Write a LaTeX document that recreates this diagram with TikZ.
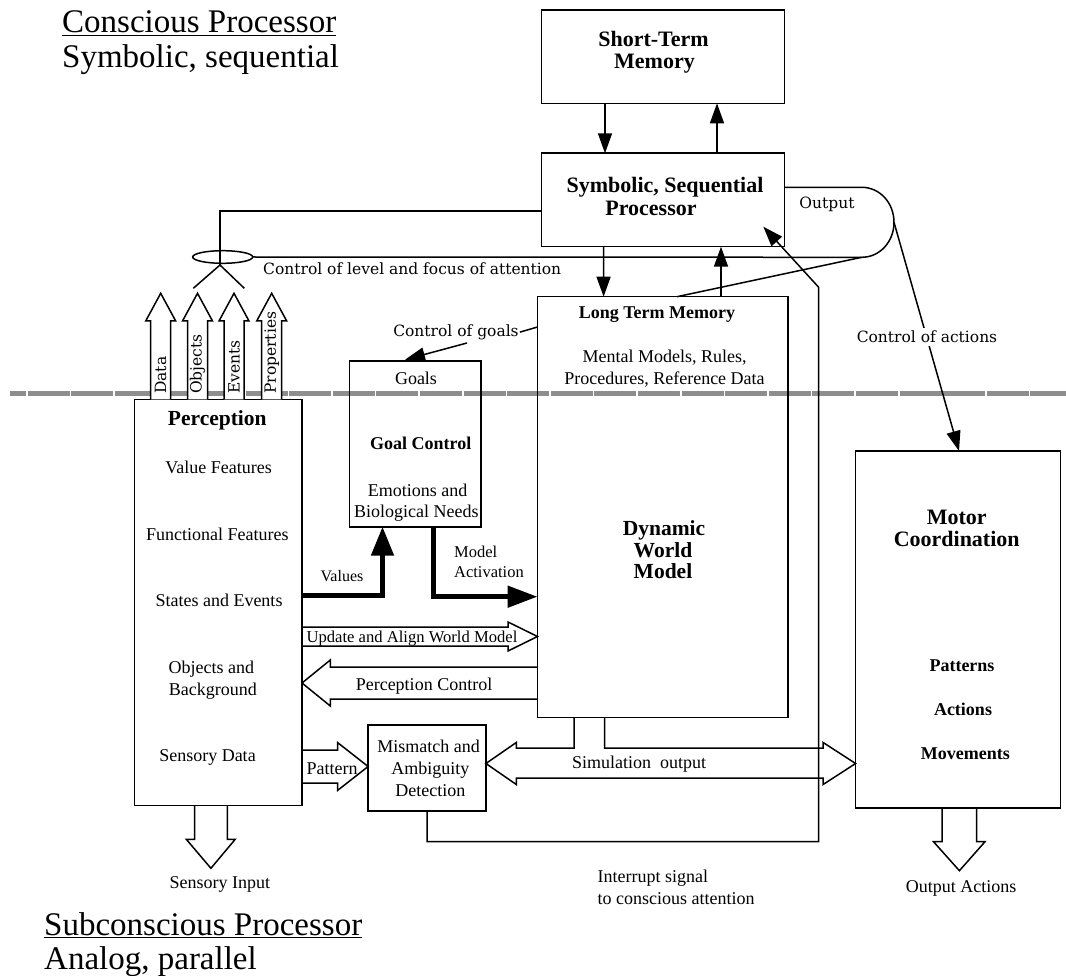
\documentclass[tikz,border=0pt]{standalone}
\usepackage{fontspec}
\setmainfont{Liberation Serif}
\newfontfamily\bkfont{DejaVu Serif}
\usetikzlibrary{arrows.meta,calc,shapes.geometric}
\definecolor{sepgray}{HTML}{8E8E8E}
\begin{document}
\begin{tikzpicture}[x=1pt,y=-1pt,
  box/.style={draw,line width=1.6pt,inner sep=0,outer sep=0},
  ln/.style={line width=1.5pt,line join=miter},
  arr/.style={ln,-{Triangle[length=20pt,width=14pt]}},
  fat/.style={line width=5pt,line join=miter,-{Triangle[length=29pt,width=22pt]}},
  blk/.style={line width=1.5pt,line join=miter},
  txt/.style={inner sep=0,anchor=base,font=\fontsize{18}{21.7}\selectfont},
  txtb/.style={inner sep=0,anchor=base,font=\fontsize{18}{21.7}\selectfont\bfseries},
  txtB/.style={inner sep=0,anchor=base,font=\fontsize{22}{21.7}\selectfont\bfseries},
  bkt/.style={inner sep=0,anchor=base,font=\bkfont\fontsize{15.5}{18}\selectfont},
  headt/.style={inner sep=0,anchor=base west,font=\fontsize{33}{38}\selectfont},
]
\useasboundingbox (0,0) rectangle (1066,976);

% separator between conscious and subconscious
\draw[draw=sepgray,line width=4.5pt,dash pattern=on 42pt off 1.6pt,dash phase=26pt] (10,393.7) -- (1066,393.7);

% headings
\node[headt] (hc) at (62,33) {\underline{Conscious Processor}};
\node[headt] (hc2) at (62,68) {Symbolic, sequential};
\node[headt] (hs) at (44,935) {\underline{Subconscious Processor}};
\node[headt] (hs2) at (44,969) {Analog, parallel};

% boxes
\node[box,minimum width=243,minimum height=93.3] (stm) at (663,56.7) {};
\node[box,minimum width=243,minimum height=93.4] (ssp) at (663,200) {};
\node[box,minimum width=250.5,minimum height=420.6] (dwm) at (662.75,507) {};
\node[box,minimum width=167.7,minimum height=406] (perc) at (218.15,602.3) {};
\node[box,minimum width=131.2,minimum height=165.7] (goal) at (415.1,443.85) {};
\node[box,minimum width=117.8,minimum height=86] (mm) at (427,768) {};
\node[box,minimum width=205,minimum height=356.7] (motor) at (958.1,629.35) {};

% box texts
\node[txtB] at (653.5,46.6) {Short-Term};
\node[txtB] at (654.5,68.3) {Memory};
\node[txtB] at (665,193) {Symbolic, Sequential};
\node[txtB] at (651,215.6) {Processor};

\node[txtb] at (657,318.7) {Long Term Memory};
\node[txt] at (664.5,362.7) {Mental Models, Rules,};
\node[txt] at (664.5,384.3) {Procedures, Reference Data};
\node[txt,font=\fontsize{21.5}{24}\selectfont\bfseries] at (664,535.3) {Dynamic};
\node[txt,font=\fontsize{21.5}{24}\selectfont\bfseries] at (663,557) {World};
\node[txt,font=\fontsize{21.5}{24}\selectfont\bfseries] at (663,578.7) {Model};

\node[txt] at (416,384.3) {Goals};
\node[txtb] at (420.7,449.3) {Goal Control};
\node[txt] at (417.5,496) {Emotions and};
\node[txt] at (416.3,517.7) {Biological Needs};

\node[txt,font=\fontsize{21.5}{24}\selectfont\bfseries] at (217.3,425.3) {Perception};
\node[txt] at (218.7,473.7) {Value Features};
\node[txt] at (217.3,540.3) {Functional Features};
\node[txt] at (219,606) {States and Events};
\node[txt] at (211.4,673.3) {Objects and};
\node[txt] at (212.8,695) {Background};
\node[txt] at (207.5,761) {Sensory Data};

\node[txt] at (428.7,752) {Mismatch and};
\node[txt] at (430.4,774.3) {Ambiguity};
\node[txt] at (430.4,796) {Detection};

\node[txtB] at (956.7,524.6) {Motor};
\node[txtB] at (956.7,546.3) {Coordination};
\node[txtb] at (962,671) {Patterns};
\node[txtb] at (963,715.3) {Actions};
\node[txtb] at (965.4,759.3) {Movements};

% STM <-> SSP, SSP <-> LTM
\draw[arr] ($(stm.south west)+(63.5,0)$) -- ($(ssp.north west)+(63.5,0)$);
\draw[arr] ($(ssp.north west)+(175.5,0)$) -- ($(stm.south west)+(175.5,0)$);
\draw[arr] ($(ssp.south west)+(62,0)$) -- ($(dwm.north west)+(66.1,0)$);
\draw[arr] ($(dwm.north west)+(183.5,0)$) -- ($(ssp.south west)+(179.5,0)$);

% attention control
\node[draw,ellipse,line width=1.5pt,minimum width=60,minimum height=12.6,inner sep=0,outer sep=0] (att) at (222.7,257) {};
\coordinate (ap) at (220,265);
\coordinate (hl) at (193.3,288.3);
\coordinate (hr) at (244.3,288.3);
\draw[ln] ($(ssp.west)+(0,11)$) -- (220,211) -- (ap);
\draw[ln] (hl) -- (ap) -- (hr);
\coordinate (loopR) at (894,222.3);
\coordinate (loopB) at (861.7,257.3);
\draw[ln] ($(ssp.east)+(0,-12.7)$) -- (861.7,187.3) .. controls (879.9,187.3) and (894,203) .. (loopR) .. controls (894,241.6) and (879.9,257.3) .. (loopB) -- (att.east);
\draw[ln] ($(dwm.north west)+(139.5,0)$) -- (loopB);
\node[bkt] (outl) at (827,208.3) {Output};
\node[bkt,anchor=base west] (attl) at (263,274.5) {Control of level and focus of attention};

% control of actions
\draw[arr] (loopR) -- ($(motor.north)+(0.9,0)$);
\node[bkt,fill=white,inner ysep=3pt,inner xsep=1pt] (cac) at (927,342.6) {Control of actions};

% control of goals
\node[bkt] (cgl) at (456,336.3) {Control of goals};
\draw[ln] ($(cgl.east)+(1,0)$) -- ($(dwm.west)+(0,-180)$);
\draw[arr] (467,343) -- ($(goal.north west)+(55.5,-1.3)$);

% perception outputs
\foreach \cx/\lab in {160.7/Data,197.5/Objects,234/Events,271.7/Properties} {
  \draw[blk,fill=white] (\cx-10,399.3) -- (\cx-10,321) -- (\cx-15,321) -- (\cx,293.3) -- (\cx+15,321) -- (\cx+10,321) -- (\cx+10,399.3);
  \node[bkt,rotate=90,anchor=west] at (\cx,394) {\lab};
}

% values / model activation
\draw[fat] ($(perc.east)+(0,-7.3)$) -| ($(goal.south west)+(33,0)$);
\node[txt,font=\fontsize{16}{19}\selectfont] at (342,581.3) {Values};
\draw[line width=5pt,line join=miter,-{Triangle[length=30pt,width=21pt]}] ($(goal.south west)+(84.4,0)$) |- ($(dwm.west)+(0,89.7)$);
\node[txt,anchor=base west,font=\fontsize{16.5}{20}\selectfont] at (453.9,557) {Model};
\node[txt,anchor=base west,font=\fontsize{16.5}{20}\selectfont] at (453.9,577) {Activation};

% update and align world model
\draw[blk] ($(perc.east)+(0,24.7)$) -- (508,627) -- (508,622) -- ($(dwm.west)+(0,129.5)$) -- (508,651) -- (508,646) -- ($(perc.east)+(0,43.7)$);
\node[txt,font=\fontsize{16.6}{19}\selectfont] at (412,642.8) {Update and Align World Model};

% perception control
\draw[blk] ($(dwm.west)+(0,160)$) -- (330.3,667) -- (330.3,660) -- ($(perc.east)+(0,80.7)$) -- (330.3,706) -- (330.3,699) -- ($(dwm.west)+(0,192)$);
\node[txt] at (424,690) {Perception Control};

% pattern
\draw[blk] ($(perc.east)+(0,147.7)$) -- (337.5,750) -- (337.5,742.5) -- ($(mm.west)+(0,-1.5)$) -- (337.5,790.5) -- (337.5,783) -- ($(perc.east)+(0,180.7)$);
\node[txt] at (332.2,774) {Pattern};

% simulation output
\draw[blk] ($(dwm.south west)+(36.5,0)$) -- (574,748) -- (516.3,748) -- (516.3,742.5) -- ($(mm.east)+(0,-4.5)$) -- (516.3,784.5) -- (516.3,778) -- (823.1,778) -- (823.1,784.5) -- ($(motor.west)+(0,134.15)$) -- (823.1,742.5) -- (823.1,748) -- (604.7,748) -- ($(dwm.south west)+(67.2,0)$);
\node[txt] at (639,768.7) {Simulation\ \ output};

% interrupt signal
\draw[arr] (mm.south) -- (427,841.5) -- (818.7,841.5) -- (818.7,287.3) -- (763.3,226.7);
\node[txt,anchor=base west] at (597.5,882.7) {Interrupt signal};
\node[txt,anchor=base west] at (597.5,904.3) {to conscious attention};

% sensory input / output actions
\draw[blk] ($(perc.south west)+(60.3,0)$) -- (194.6,839.3) -- (186.3,839.3) -- (210.9,868.3) -- (235.2,839.3) -- (227.3,839.3) -- ($(perc.south west)+(93,0)$);
\node[txt] at (219.9,888.7) {Sensory Input};
\draw[blk] ($(motor.south west)+(86.6,0)$) -- (942.2,841.7) -- (933.5,841.7) -- (959.4,870.7) -- (985,841.7) -- (976.5,841.7) -- ($(motor.south west)+(120.9,0)$);
\node[txt] at (961,892.7) {Output Actions};
\end{tikzpicture}
\end{document}
